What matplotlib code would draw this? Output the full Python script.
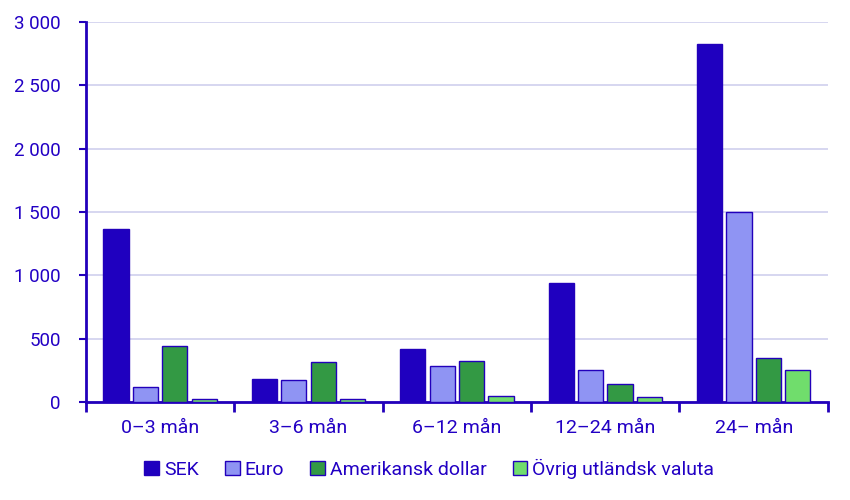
import numpy as np
import matplotlib.pyplot as plt
from matplotlib.ticker import FuncFormatter

plt.rcParams['font.family'] = ['Roboto', 'DejaVu Sans']

categories = ['0–3 mån', '3–6 mån', '6–12 mån', '12–24 mån', '24– mån']
series_names = ['SEK', 'Euro', 'Amerikansk dollar', 'Övrig utländsk valuta']
sek = [1365, 181, 418, 939, 2830]
euro = [118, 174, 282, 250, 1497]
usd = [442, 316, 321, 140, 345]
other = [24, 24, 45, 37, 250]

text_col = '#2200c4'
edge_col = '#2200bb'
colors = ['#1f00bf', '#8f94f3', '#339944', '#70dd6c']

fig = plt.figure(figsize=(8.5, 5), dpi=100)
ax = fig.add_axes([0.101, 0.196, 0.873, 0.76])

x = np.arange(len(categories))
slot = 0.198
width = 0.17
for i, (vals, name) in enumerate(zip([sek, euro, usd, other], series_names)):
    offs = (i - 1.5) * slot
    ax.bar(x + offs, vals, width, color=colors[i], edgecolor=edge_col,
           linewidth=1.0, label=name, zorder=3)

ax.set_xlim(-0.5, len(categories) - 0.5)
ax.set_ylim(0, 3000)
ax.set_yticks(np.arange(0, 3001, 500))
ax.yaxis.set_major_formatter(FuncFormatter(lambda v, p: f'{int(v):,}'.replace(',', ' ')))
ax.grid(axis='y', color='#d3d3ef', linewidth=1.3, zorder=0)

# category labels centred, ticks on group boundaries
ax.set_xticks(x)
ax.set_xticklabels(categories)
ax.tick_params(axis='x', which='major', length=0, pad=12, labelsize=14)
ax.set_xticks(np.arange(-0.5, len(categories)), minor=True)
ax.tick_params(axis='x', which='minor', length=7, width=2, color=edge_col)
ax.tick_params(axis='y', length=5, width=1.5, color=edge_col, pad=13, labelsize=13.5)
ax.tick_params(labelcolor=text_col)

for s in ['top', 'right']:
    ax.spines[s].set_visible(False)
for s in ['left', 'bottom']:
    ax.spines[s].set_color(edge_col)
    ax.spines[s].set_linewidth(2)

fig.legend(loc='center', bbox_to_anchor=(0.505, 0.063), ncol=4, frameon=False,
           fontsize=14, labelcolor=text_col, handlelength=0.75, handleheight=0.75,
           handletextpad=0.25, columnspacing=1.35)

plt.savefig('out.png', dpi=100)
